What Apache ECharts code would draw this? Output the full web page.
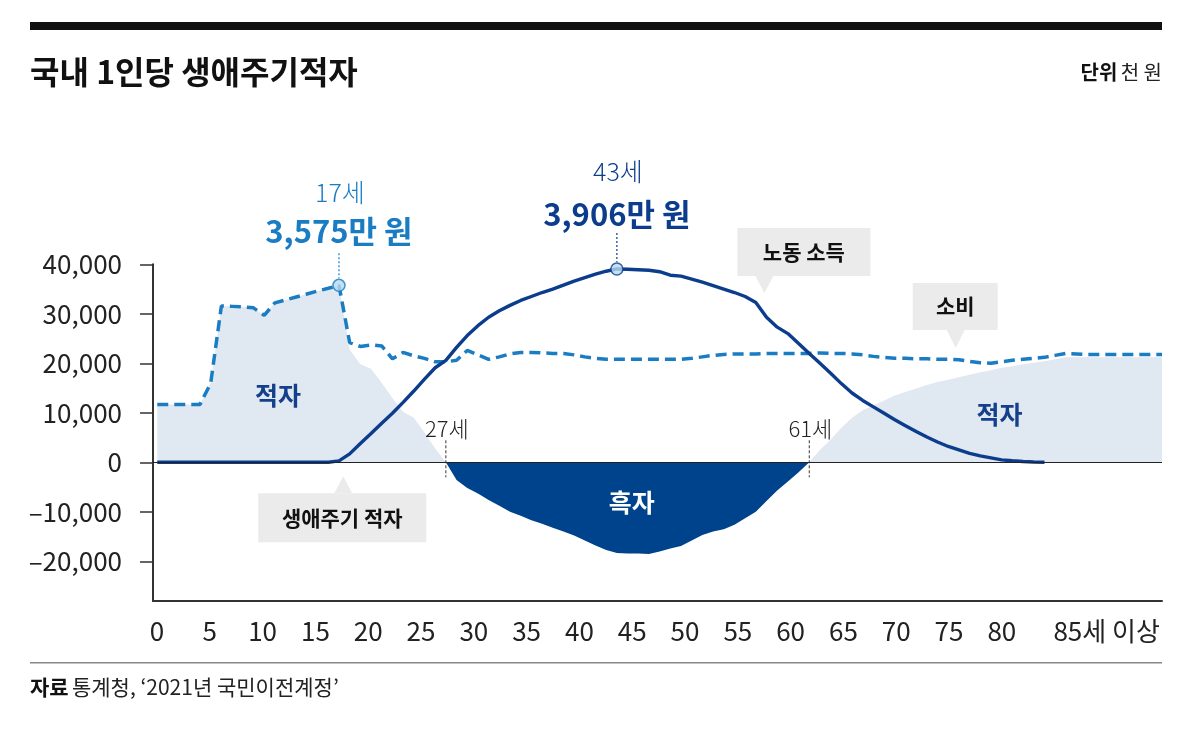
<!DOCTYPE html>
<html><head><meta charset="utf-8">
<script src="https://cdn.jsdelivr.net/npm/echarts@6/dist/echarts.min.js"></script>
<style>html,body{margin:0;padding:0;background:#fff}#c{width:1200px;height:752px}</style>
</head><body><div id="c"></div>
<script>
// ---------- data (천 원) ----------
const ages = [0,1,2,3,4,5,6,7,8,9,10,11,12,13,14,15,16,17,18,19,20,21,22,23,24,25,26,27,28,29,30,31,32,33,34,35,36,37,38,39,40,41,42,43,44,45,46,47,48,49,50,51,52,53,54,55,56,57,58,59,60,61,62,63,64,65,66,67,68,69,70,71,72,73,74,75,76,77,78,79,80,81,82,83,84,85,86,87,88,89,90,91,92,93,94];
const consumption = [11700,11700,11700,11700,11700,16000,31600,31500,31400,31200,29700,32200,32800,33400,34000,34600,35150,35750,24200,23400,23700,23500,20900,22200,21500,21000,20300,20300,20600,22600,21700,20800,21300,21900,22200,22200,22100,22000,22000,21700,21300,21000,20800,20800,20800,20800,20800,20800,20800,20800,21000,21300,21600,21800,21900,21900,21900,22000,22000,22000,22000,22000,22100,22000,22000,21900,21700,21400,21200,21000,21000,20900,20900,20800,20800,20700,20400,20100,20000,20300,20600,20800,21000,21200,21600,22000,21900,21800,21800,21800,21800,21800,21800,21800,21800];
const laborIncome = [0,0,0,0,0,0,0,0,0,0,0,0,0,0,0,0,0,300,1700,3800,5800,7900,9900,12100,14400,16800,19100,20600,23200,25600,27600,29300,30600,31700,32700,33500,34300,35000,35800,36600,37300,38000,38600,39060,39000,38900,38800,38500,37800,37600,37000,36400,35700,35000,34300,33500,32300,29300,27300,26000,24000,22000,20000,18000,15900,14000,12500,11200,9900,8600,7400,6200,5100,4100,3200,2500,1800,1300,900,500,300,150,60,0];
const lifecycleDeficit = [11700,11700,11700,11700,11700,16000,31600,31500,31400,31200,29700,32200,32800,33400,34000,34600,35150,35500,22800,19800,18900,16000,13000,10200,9000,6000,2800,0,-3600,-5200,-6300,-7600,-8800,-10000,-10800,-11700,-12400,-13200,-14000,-14800,-15800,-16800,-17700,-18300,-18400,-18400,-18500,-18000,-17400,-16900,-15800,-14700,-14000,-13500,-12600,-11300,-10000,-7800,-5700,-3900,-2000,0,2500,4600,7000,9000,10500,11500,12500,13500,14200,14900,15600,16200,16700,17200,17700,18200,18600,19100,19400,19800,20100,20400,20800,21200,21200,21200,21200,21200,21200,21200,21200,21200,21200];
const xTickValues = [0,5,10,15,20,25,30,35,40,45,50,55,60,65,70,75,80,85];
const yTickValues = [-20000,-10000,0,10000,20000,30000,40000];
const consumptionPeak = {age:17, value:35750, ageText:'17세', valueText:'3,575만 원'};
const incomePeak = {age:43, value:39060, ageText:'43세', valueText:'3,906만 원'};
const crossingAges = [27, 61];

// ---------- style ----------
const FONT = '"Noto Sans CJK KR","Noto Sans",sans-serif';
const C_DASH = '#1a7cc2', C_NAVY = '#0c3d8c', C_SURPLUS = '#00438d', C_FILL = '#e0e8f1', C_TEXT = '#222';

const deficitPos = lifecycleDeficit.map(v => v > 0 ? v : 0);
const deficitNeg = lifecycleDeficit.map(v => v < 0 ? v : 0);

const chart = echarts.init(document.getElementById('c'), null, {renderer:'canvas'});
const option = {
  animation:false,
  backgroundColor:'#fff',
  textStyle:{fontFamily:FONT},
  grid:{left:153, right:38, top:264.3, bottom:151.1, containLabel:false},
  xAxis:[
    {type:'value', min:-0.4, max:94, position:'bottom',
     axisLine:{show:true, onZero:false, lineStyle:{color:'#333', width:2}},
     axisTick:{show:false}, axisLabel:{show:false}, splitLine:{show:false}},
    {type:'value', min:-0.38, max:95.17, position:'bottom',
     axisLine:{show:false, onZero:false}, axisTick:{show:false}, splitLine:{show:false},
     axisLabel:{show:true, customValues:xTickValues, margin:17, fontSize:26, color:C_TEXT, fontFamily:FONT,
       formatter:v => v === 85 ? '{s|85세 이상}' : String(v),
       rich:{s:{fontSize:26, color:C_TEXT, fontFamily:FONT, padding:[0,0,0,104]}}}}
  ],
  yAxis:{type:'value', min:-28000, max:40000,
    axisLine:{show:true, onZero:false, lineStyle:{color:'#333', width:2}},
    axisTick:{show:true, customValues:yTickValues, length:13, lineStyle:{color:'#333', width:1.5}},
    axisLabel:{customValues:yTickValues, margin:31, fontSize:26, color:C_TEXT, fontFamily:FONT,
      formatter:v => (v < 0 ? '–' : '') + Math.abs(v).toLocaleString('en-US')},
    splitLine:{show:false}},
  series:[
    {type:'line', xAxisIndex:0, data:ages.map((a,i)=>[a, deficitPos[i]]), symbol:'none',
     lineStyle:{width:0}, areaStyle:{color:C_FILL, opacity:1}, z:1, silent:true},
    {type:'line', xAxisIndex:0, data:ages.map((a,i)=>[a, deficitNeg[i]]), symbol:'none',
     lineStyle:{width:0}, areaStyle:{color:C_SURPLUS, opacity:1}, z:2, silent:true,
     markLine:{silent:true, symbol:['none','none'], label:{show:false},
       lineStyle:{color:'#222', width:1.2, type:'solid'}, data:[{yAxis:0}]}},
    {type:'line', xAxisIndex:0, data:ages.map((a,i)=>[a, consumption[i]]), symbol:'none',
     lineStyle:{color:C_DASH, width:3.5, type:[11,6]}, z:3},
    {type:'line', xAxisIndex:0, data:laborIncome.map((v,i)=>[ages[i], v]), symbol:'none',
     lineStyle:{color:C_NAVY, width:3.4}, z:4},
    {type:'scatter', xAxisIndex:0, data:[[consumptionPeak.age, consumptionPeak.value]], symbolSize:12,
     itemStyle:{color:'#b6daf1', borderColor:C_DASH, borderWidth:1.5}, z:6},
    {type:'scatter', xAxisIndex:0, data:[[incomePeak.age, incomePeak.value]], symbolSize:12,
     itemStyle:{color:'#b6daf1', borderColor:C_NAVY, borderWidth:1.5}, z:6}
  ]
};
chart.setOption(option);

// ---------- annotations anchored on data coordinates ----------
const px = (a, v) => chart.convertToPixel({xAxisIndex:0, yAxisIndex:0}, [a, v]);
const g = [];
function txt(x, y, text, size, color, weight, align){
  g.push({type:'text', z:100, style:{x, y, text, fill:color, fontSize:size, fontWeight:weight||'normal',
    fontFamily:FONT, align:align||'center', verticalAlign:'middle'}});
}
// header/footer
g.push({type:'rect', z:100, shape:{x:30, y:22, width:1132, height:8}, style:{fill:'#111'}});
txt(30, 72, '국내 1인당 생애주기적자', 32, '#111', 'bold', 'left');
g.push({type:'text', z:100, style:{x:1162, y:72, align:'right', verticalAlign:'middle',
  text:'{b|단위} {n|천 원}', rich:{b:{fontSize:20, fontWeight:'bold', fill:'#111', fontFamily:FONT},
  n:{fontSize:20, fill:'#222', fontFamily:FONT}}}});
g.push({type:'rect', z:100, shape:{x:30, y:662, width:1132, height:1.5}, style:{fill:'#888'}});
g.push({type:'text', z:100, style:{x:30, y:687, align:'left', verticalAlign:'middle',
  text:'{b|자료} {n|통계청, ‘2021년 국민이전계정’}', rich:{b:{fontSize:21, fontWeight:'bold', fill:'#111', fontFamily:FONT},
  n:{fontSize:21, fill:'#222', fontFamily:FONT}}}});

// peaks
[[consumptionPeak, C_DASH, -93, -54, -32], [incomePeak, C_NAVY, -97, -55, -36]].forEach(([p, col, oa, ov, ol]) => {
  const [x, y] = px(p.age, p.value);
  g.push({type:'line', z:100, shape:{x1:x, y1:y+ol, x2:x, y2:y-7}, style:{stroke:col, lineWidth:1.2, lineDash:[2,2]}});
  txt(x+1, y+oa, p.ageText, 25, col, 300);
  txt(x, y+ov, p.valueText, 31, col, 'bold');
});
// crossings
crossingAges.forEach(c => {
  const [x, y0] = px(c, 0);
  g.push({type:'line', z:100, shape:{x1:x, y1:y0-22, x2:x, y2:y0+15}, style:{stroke:'#333', lineWidth:1, lineDash:[3,2]}});
  txt(x+1, y0-34, c + '세', 22, '#222', 300);
});
// region labels
let p;
p = px(11.3, 13400); txt(p[0], p[1], '적자', 25, '#143f8b', 'bold');
p = px(78.8, 9700);  txt(p[0], p[1], '적자', 25, '#143f8b', 'bold');
p = px(44.4, -8200); txt(p[0], p[1], '흑자', 25, '#fff', 'bold');
// callouts
function callout(age, val, label, dx, dy, w, h, up){
  const [tx, ty] = px(age, val);
  const bx = tx + dx, by = ty + dy;
  g.push({type:'rect', z:90, shape:{x:bx, y:by, width:w, height:h}, style:{fill:'#ebebeb'}});
  const baseY = up ? by : by + h;
  g.push({type:'polygon', z:90, shape:{points:[[tx-9, baseY],[tx+9, baseY],[tx, ty]]}, style:{fill:'#ebebeb'}});
  txt(bx + w/2, by + h/2, label, 21, '#111', 'bold');
}
callout(56.8, 34200, '노동 소득', -27, -65, 133, 48, false);
callout(74.7, 23100, '소비', -43, -65, 85, 47, false);
callout(17.4, -2800, '생애주기 적자', -85, 17, 168, 49, true);

chart.setOption({graphic:g});
</script></body></html>
